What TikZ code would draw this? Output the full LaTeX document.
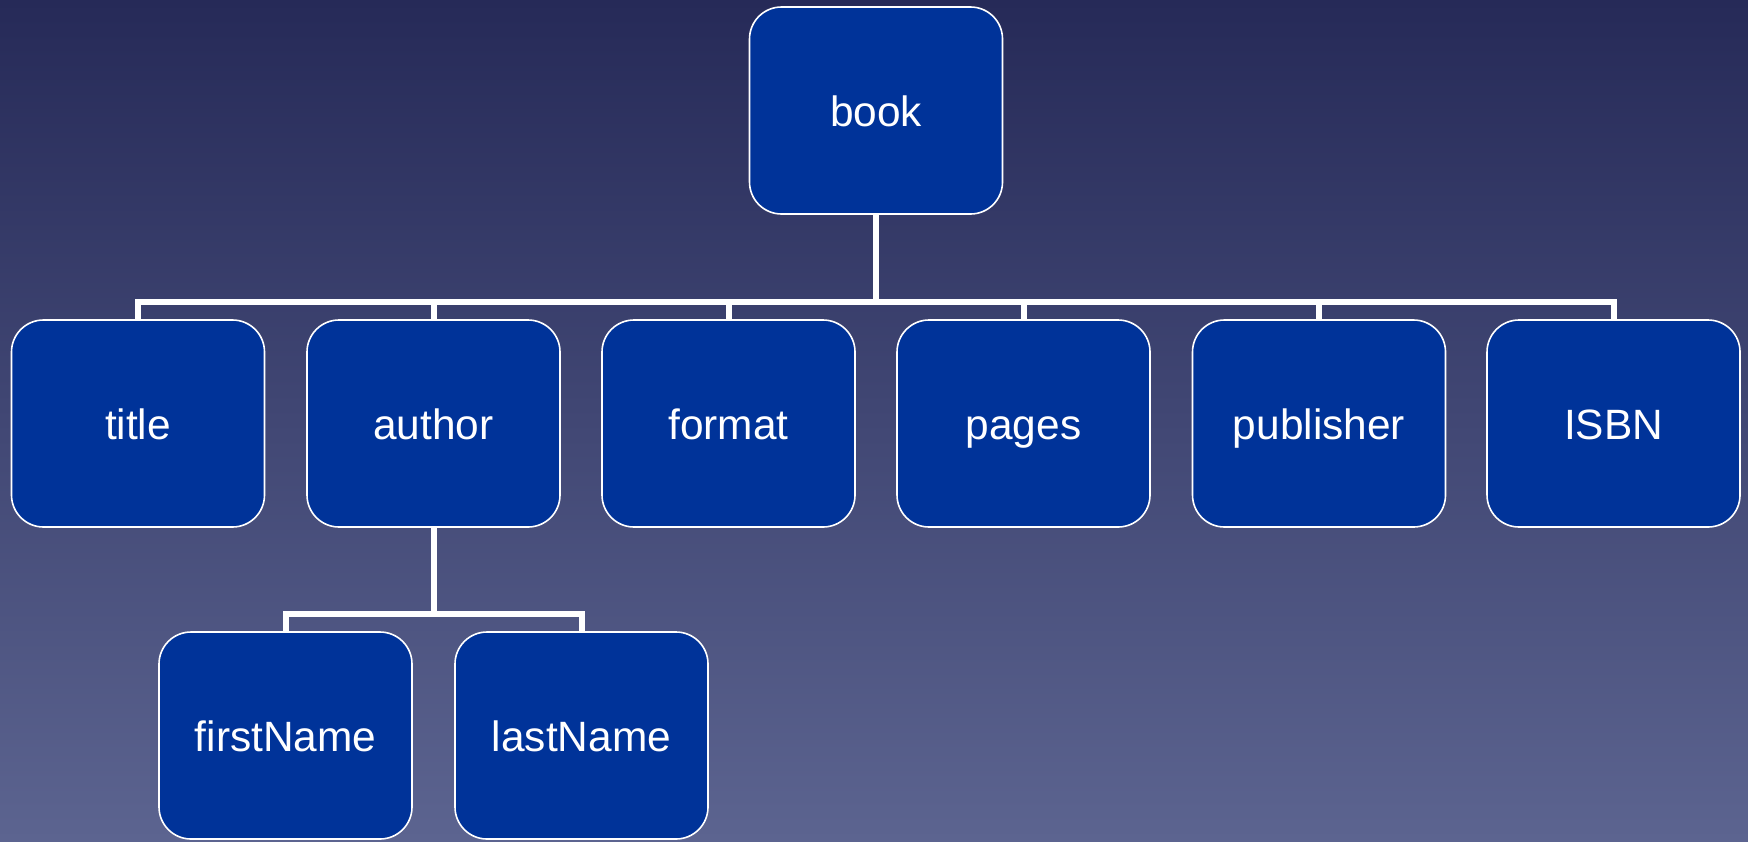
\documentclass[tikz,border=0pt]{standalone}
\usepackage{fontspec}
\setmainfont{Liberation Sans}
\definecolor{bgtop}{RGB}{38,42,88}
\definecolor{bgbot}{RGB}{92,100,144}
\definecolor{boxblue}{RGB}{0,51,153}
\begin{document}
\begin{tikzpicture}[x=0.5pt,y=-0.5pt,
  itembox/.style={draw=white, line width=0.8pt, fill=boxblue, rounded corners=16pt,
    minimum width=126.5pt, minimum height=103.5pt, inner sep=0pt,
    text height=16pt, text depth=0pt,
    text=white, font=\fontsize{21.2}{25}\selectfont},
  link/.style={draw=white, line width=3pt, line join=miter}]
\shade[top color=bgtop, bottom color=bgbot] (0,0) rectangle (1748,841);
\useasboundingbox (0,0) rectangle (1748,841);
\node[itembox] (book) at (876,110.5) {book};
\node[itembox] (title) at (138,423.5) {title};
\node[itembox] (author) at (433.5,423.5) {author};
\node[itembox] (format) at (728.5,423.5) {format};
\node[itembox] (pages) at (1023.5,423.5) {pages};
\node[itembox] (publisher) at (1319,423.5) {publisher};
\node[itembox] (isbn) at (1613.5,423.5) {ISBN};
\node[itembox] (first) at (285.5,735.5) {firstName};
\node[itembox] (last) at (581.5,735.5) {lastName};
\coordinate (bar) at (876,302);
\coordinate (bar2) at (433.5,614);
\foreach \c in {title,author,format,pages,publisher,isbn}
  \draw[link] (book.south) -- (book.south |- bar) -| (\c.north);
\foreach \c in {first,last}
  \draw[link] (author.south) -- (author.south |- bar2) -| (\c.north);
\end{tikzpicture}
\end{document}
